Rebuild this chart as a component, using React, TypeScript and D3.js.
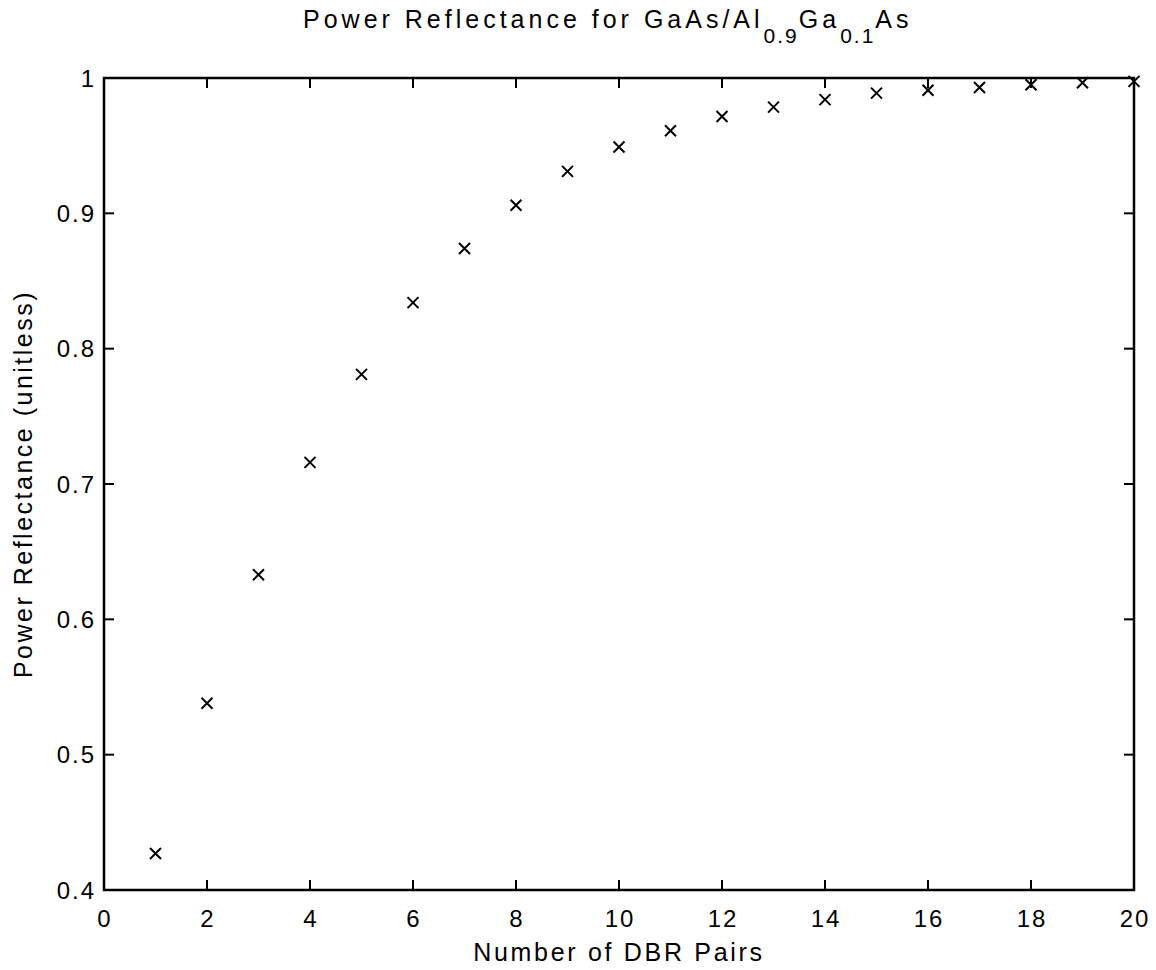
import React from "react";
import * as d3 from "d3";

const pairs: number[] = [1, 2, 3, 4, 5, 6, 7, 8, 9, 10, 11, 12, 13, 14, 15, 16, 17, 18, 19, 20];
const reflectance: number[] = [
  0.427, 0.538, 0.633, 0.716, 0.781, 0.834, 0.874, 0.906, 0.931, 0.949,
  0.961, 0.9715, 0.9785, 0.984, 0.9888, 0.991, 0.993, 0.995, 0.9965, 0.9975,
];
const xTicks: number[] = [0, 2, 4, 6, 8, 10, 12, 14, 16, 18, 20];
const yTicks: number[] = [0.4, 0.5, 0.6, 0.7, 0.8, 0.9, 1];

const W = 1156;
const H = 970;
const left = 104;
const right = 1134;
const top = 78;
const bottom = 890;
const FONT = "'Liberation Sans', Arial, Helvetica, sans-serif";

export default function App() {
  const x = d3.scaleLinear().domain([0, 20]).range([left, right]);
  const y = d3.scaleLinear().domain([0.4, 1]).range([bottom, top]);
  const tickLen = 10;
  const m = 5.5;
  const yFmt = (v: number) => (v === 1 ? "1" : d3.format(".1f")(v));

  return (
    <svg
      width={W}
      height={H}
      style={{ position: "absolute", left: 0, top: 0, background: "#fff" }}
      fontFamily={FONT}
    >
      <rect x={0} y={0} width={W} height={H} fill="#fff" />
      {/* ticks */}
      {xTicks.map((t) => (
        <g key={"xt" + t} stroke="#000" strokeWidth={2}>
          <line x1={x(t)} x2={x(t)} y1={bottom} y2={bottom - tickLen} />
          <line x1={x(t)} x2={x(t)} y1={top} y2={top + tickLen} />
        </g>
      ))}
      {yTicks.map((t) => (
        <g key={"yt" + t} stroke="#000" strokeWidth={2}>
          <line x1={left} x2={left + tickLen} y1={y(t)} y2={y(t)} />
          <line x1={right} x2={right - tickLen} y1={y(t)} y2={y(t)} />
        </g>
      ))}
      {/* box */}
      <rect
        x={left}
        y={top}
        width={right - left}
        height={bottom - top}
        fill="none"
        stroke="#000"
        strokeWidth={2.5}
      />
      {/* tick labels */}
      {xTicks.map((t) => (
        <text
          key={"xl" + t}
          x={x(t) + 1}
          y={927}
          textAnchor="middle"
          fontSize={24}
          letterSpacing={2}
          fill="#000"
        >
          {String(t)}
        </text>
      ))}
      {yTicks.map((t) => (
        <text
          key={"yl" + t}
          x={96}
          y={y(t) + 8.5}
          textAnchor="end"
          fontSize={24}
          letterSpacing={2}
          fill="#000"
        >
          {yFmt(t)}
        </text>
      ))}
      {/* markers */}
      {pairs.map((p, i) => {
        const cx = x(p);
        const cy = y(reflectance[i]);
        return (
          <path
            key={"m" + p}
            d={`M${cx - m},${cy - m}L${cx + m},${cy + m}M${cx - m},${cy + m}L${cx + m},${cy - m}`}
            stroke="#000"
            strokeWidth={2}
            fill="none"
          />
        );
      })}
      {/* axis labels */}
      <text
        x={(left + right) / 2}
        y={961}
        textAnchor="middle"
        fontSize={25}
        letterSpacing={2.7}
        fill="#000"
      >
        Number of DBR Pairs
      </text>
      <text
        transform={`translate(32,${(top + bottom) / 2}) rotate(-90)`}
        textAnchor="middle"
        fontSize={25}
        letterSpacing={2.5}
        fill="#000"
      >
        Power Reflectance (unitless)
      </text>
      {/* title */}
      <text x={303} y={28} fontSize={25} letterSpacing={4} fill="#000">
        <tspan>Power Reflectance for GaAs/Al</tspan>
        <tspan dy={15} fontSize={21} letterSpacing={2}>0.9</tspan>
        <tspan dy={-15} letterSpacing={4}>Ga</tspan>
        <tspan dy={15} fontSize={21} letterSpacing={2}>0.1</tspan>
        <tspan dy={-15} letterSpacing={4}>As</tspan>
      </text>
    </svg>
  );
}
